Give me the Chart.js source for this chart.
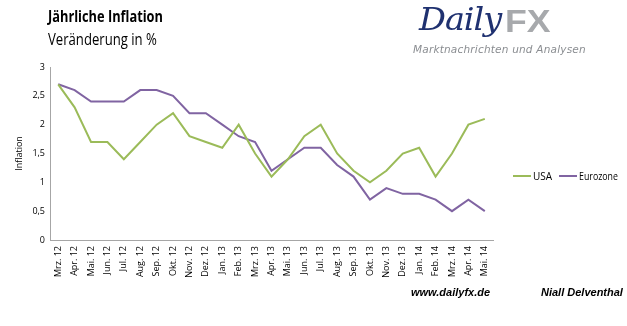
<!DOCTYPE html>
<html><head><meta charset="utf-8">
<script src="https://cdn.jsdelivr.net/npm/chart.js@4"></script>
<style>
html,body{margin:0;padding:0;background:#fff;}
#wrap{position:relative;width:627px;height:326px;overflow:hidden;font-family:"Open Sans",sans-serif;}
canvas{position:absolute;left:0;top:0;}
.t{position:absolute;white-space:nowrap;transform-origin:0 0;}
#title{left:48px;top:5px;font-size:16px;font-weight:bold;color:#000;transform:scaleX(0.8);}
#sub{left:48px;top:28px;font-size:16px;color:#000;transform:scaleX(0.82);}
#daily{left:419px;top:0px;font-family:"DejaVu Serif",serif;font-style:italic;font-size:32px;color:#1f3170;letter-spacing:-1px;transform:scaleX(1.05);}
#fx{left:505px;top:4px;font-family:"Liberation Sans",sans-serif;font-weight:bold;font-size:31px;color:#a7a9ac;transform:scaleX(1.15);}
#mk{left:413px;top:43px;font-family:"DejaVu Sans",sans-serif;font-style:italic;font-size:10.5px;color:#8a8d91;letter-spacing:0.2px;}
.foot{top:286px;font-family:"Liberation Sans",sans-serif;font-weight:bold;font-style:italic;font-size:11px;color:#000;}
#legend{position:absolute;left:513px;top:169px;font-size:10px;font-family:"Open Sans",sans-serif;display:flex;align-items:center;}
#legend span.sw{display:inline-block;width:18px;height:2px;margin-right:2px;}
#legend span.lb{display:inline-block;margin-right:7px;}
</style></head>
<body><div id="wrap">
<canvas id="c" width="627" height="326"></canvas>
<div class="t" id="title">Jährliche Inflation</div>
<div class="t" id="sub">Veränderung in %</div>
<div class="t" id="daily">Daily</div>
<div class="t" id="fx">FX</div>
<div class="t" id="mk">Marktnachrichten und Analysen</div>
<div class="t foot" style="left:411px">www.dailyfx.de</div>
<div class="t foot" style="left:541px">Niall Delventhal</div>
<div id="legend"></div>
</div>
<script>
const categories = ["Mrz. 12","Apr. 12","Mai. 12","Jun. 12","Jul. 12","Aug. 12","Sep. 12","Okt. 12","Nov. 12","Dez. 12",
  "Jan. 13","Feb. 13","Mrz. 13","Apr. 13","Mai. 13","Jun. 13","Jul. 13","Aug. 13","Sep. 13","Okt. 13","Nov. 13","Dez. 13",
  "Jan. 14","Feb. 14","Mrz. 14","Apr. 14","Mai. 14"];
const usa = [2.7,2.3,1.7,1.7,1.4,1.7,2.0,2.2,1.8,1.7,1.6,2.0,1.5,1.1,1.4,1.8,2.0,1.5,1.2,1.0,1.2,1.5,1.6,1.1,1.5,2.0,2.1];
const eurozone = [2.7,2.6,2.4,2.4,2.4,2.6,2.6,2.5,2.2,2.2,2.0,1.8,1.7,1.2,1.4,1.6,1.6,1.3,1.1,0.7,0.9,0.8,0.8,0.7,0.5,0.7,0.5];
const yTicks = [0,0.5,1,1.5,2,2.5,3];
const seriesNames = ["USA","Eurozone"];
const seriesColors = ["#9bbb59","#8064a2"];

const fmt = v => String(v).replace('.', ',');
const tickFont = {family:"Open Sans", size:9};

const chart = new Chart(document.getElementById('c'), {
  type:'line',
  data:{labels:categories, datasets:[
    {label:seriesNames[0], data:usa, borderColor:seriesColors[0], borderWidth:2, pointRadius:0, tension:0, fill:false},
    {label:seriesNames[1], data:eurozone, borderColor:seriesColors[1], borderWidth:2, pointRadius:0, tension:0, fill:false}
  ]},
  options:{
    responsive:false, animation:false, devicePixelRatio:1,
    layout:{padding:{left:14, top:67, right:134, bottom:0}},
    plugins:{legend:{display:false}, tooltip:{enabled:false}},
    scales:{
      x:{
        offset:true,
        grid:{display:false, drawTicks:false},
        border:{display:true, color:'#a6a6a6', width:1},
        ticks:{minRotation:90, maxRotation:90, autoSkip:false, padding:6, font:tickFont, color:'#000'},
        afterFit(s){ s.height = 86; }
      },
      y:{
        min:0, max:3,
        afterBuildTicks(s){ s.ticks = yTicks.map(v=>({value:v})); },
        grid:{display:false, drawTicks:false},
        border:{display:true, color:'#a6a6a6', width:1},
        ticks:{font:tickFont, color:'#000', padding:5, callback:v=>fmt(v)},
        title:{display:true, text:'Inflation', font:{family:"Open Sans", size:9}, color:'#000', padding:{top:0,bottom:4}},
        afterFit(s){ s.width = 36; }
      }
    }
  }
});

const lg = document.getElementById('legend');
seriesNames.forEach((n,i)=>{
  const sw=document.createElement('span'); sw.className='sw'; sw.style.background=seriesColors[i];
  const lb=document.createElement('span'); lb.className='lb'; lb.textContent=n;
  if(i===1){ lb.style.transform='scaleX(0.88)'; lb.style.transformOrigin='0 0'; }
  lg.appendChild(sw); lg.appendChild(lb);
});
</script>
</body></html>
